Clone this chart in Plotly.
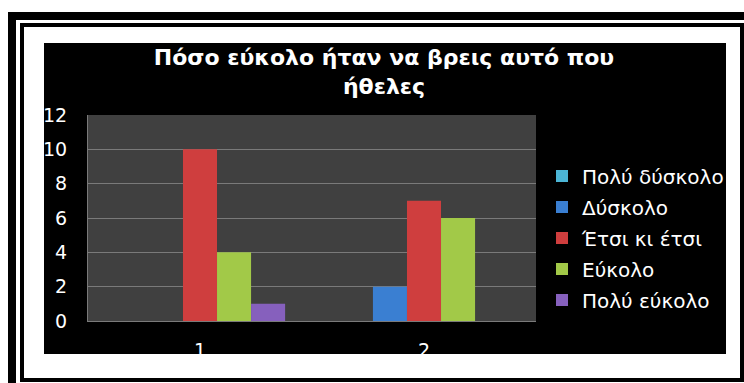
import plotly.graph_objects as go

# Survey answers: how easy was it to find what you wanted
categories = ["1", "2"]
series_names = ["Πολύ δύσκολο", "Δύσκολο", "Έτσι κι έτσι", "Εύκολο", "Πολύ εύκολο"]
very_hard = [0, 0]
hard = [0, 2]
so_so = [10, 7]
easy = [4, 6]
very_easy = [1, 0]
y_ticks = [0, 2, 4, 6, 8, 10, 12]
title_text = "Πόσο εύκολο ήταν να βρεις αυτό που<br>ήθελες"

series_values = [very_hard, hard, so_so, easy, very_easy]
fills = ["#4cb6d6", "#3a7fd2", "#cf3e3e", "#a2c948", "#8660bd"]

W, H = 744, 383


def px_x(v):
    return v / W


def px_y(v):
    return 1 - v / H


fig = go.Figure()
for i, (name, vals) in enumerate(zip(series_names, series_values)):
    fig.add_trace(go.Bar(
        x=categories, y=vals, name=name,
        legendgroup=f"g{i}",
        marker=dict(color=fills[i], line=dict(width=0)),
    ))


def rect(x0, y0, x1, y1, color, layer="below"):
    return dict(type="rect", xref="paper", yref="paper",
                x0=px_x(x0), x1=px_x(x1), y0=px_y(y1), y1=px_y(y0),
                fillcolor=color, line=dict(width=0), layer=layer)


shapes = [
    # heavy outer border (left and top)
    rect(8, 12, 16, 390, "black"),
    rect(8, 12, 750, 20, "black"),
    # thin inner border
    rect(20, 23, 24, 382, "black"),
    rect(20, 23, 744, 27, "black"),
    rect(740, 23, 744, 382, "black"),
    rect(20, 378, 744, 382, "black"),
    # black chart area and grey plot area
    rect(44, 43, 726, 354, "black"),
    rect(88, 115, 536, 321, "#404040"),
    # white strip below the chart area
    rect(24, 354, 740, 378, "white", layer="above"),
]

fig.update_layout(
    width=W, height=H,
    margin=dict(l=0, r=0, t=0, b=0, autoexpand=False),
    paper_bgcolor="white",
    plot_bgcolor="#404040",
    barmode="group",
    bargap=0.24,
    bargroupgap=0,
    shapes=shapes,
    title=dict(
        text=title_text,
        x=384 / W, xanchor="center",
        y=px_y(65), yanchor="top", yref="paper",
        font=dict(family="DejaVu Sans", size=22, color="white", weight="bold"),
    ),
    xaxis=dict(
        domain=[px_x(88), px_x(536)],
        type="category",
        automargin=False,
        showgrid=False,
        showline=True, linecolor="#7a7a7a", linewidth=1,
        ticks="",
        tickfont=dict(family="DejaVu Sans", size=19, color="white"),
        ticklabelstandoff=12,
    ),
    yaxis=dict(
        domain=[px_y(321), px_y(115)],
        range=[0, 12],
        automargin=False,
        tickvals=y_ticks,
        showgrid=True, gridcolor="#7a7a7a", gridwidth=1,
        showline=True, linecolor="#7a7a7a", linewidth=1,
        zeroline=False,
        ticks="",
        tickfont=dict(family="DejaVu Sans", size=19, color="white"),
        ticklabelstandoff=16,
    ),
    legend=dict(
        x=px_x(542), xanchor="left",
        y=px_y(238), yanchor="middle",
        bgcolor="rgba(0,0,0,0)",
        font=dict(family="DejaVu Sans", size=20, color="white"),
        traceorder="grouped",
        tracegroupgap=2,
        itemwidth=30,
    ),
    showlegend=True,
)

fig.write_html("out.html")
